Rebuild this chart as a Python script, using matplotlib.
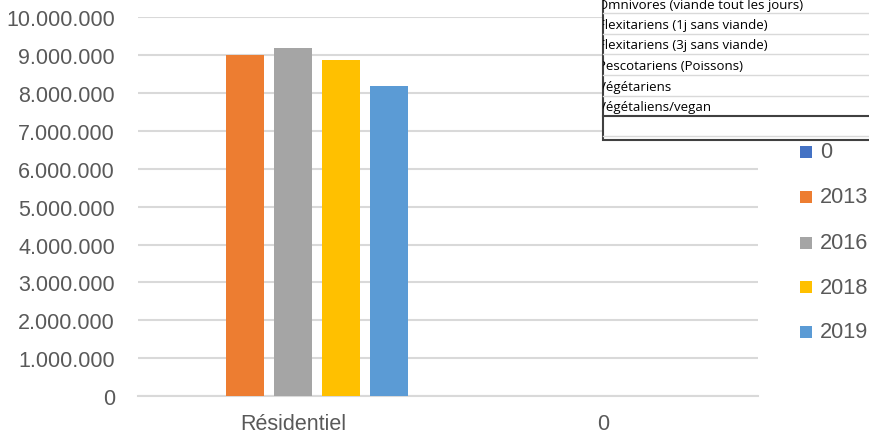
import matplotlib
matplotlib.use("Agg")
import matplotlib.pyplot as plt
from matplotlib.patches import Rectangle
from matplotlib.ticker import FuncFormatter, MultipleLocator
import numpy as np

categories = ["Résidentiel", "0"]
series_names = ["0", "2013", "2016", "2018", "2019"]
series_values = {
    "0":    [0, 0],
    "2013": [9000000, 0],
    "2016": [9180000, 0],
    "2018": [8870000, 0],
    "2019": [8190000, 0],
}
series_colors = ["#4472C4", "#ED7D31", "#A5A5A5", "#FFC000", "#5B9BD5"]
table_rows = [
    "Omnivores (viande tout les jours)",
    "Flexitariens (1j sans viande)",
    "Flexitariens (3j sans viande)",
    "Pescotariens (Poissons)",
    "Végétariens",
    "Végétaliens/vegan",
]

W, H = 870, 439
fig = plt.figure(figsize=(W / 100, H / 100), dpi=100)
FONT = "Liberation Sans"
TXT = "#595959"

def px_box(x0, y0, x1, y1):
    return [x0 / W, 1 - y1 / H, (x1 - x0) / W, (y1 - y0) / H]

ax = fig.add_axes(px_box(138, 18.3, 758, 397))
x = np.arange(len(categories))
step = 48 / 310
bw = 38 / 310
n = len(series_names)
for i, (name, col) in enumerate(zip(series_names, series_colors)):
    offs = (i - (n - 1) / 2) * step
    ax.bar(x + offs, series_values[name], width=bw, color=col, zorder=3)

ax.set_xlim(-0.5, len(categories) - 0.5)
ax.set_ylim(0, 10000000)
ax.yaxis.set_major_locator(MultipleLocator(1000000))
ax.yaxis.set_major_formatter(FuncFormatter(lambda v, p: f"{int(round(v)):,}".replace(",", ".")))
ax.grid(axis="y", color="#D9D9D9", linewidth=1.5, zorder=0)
for s in ["top", "right", "left"]:
    ax.spines[s].set_visible(False)
ax.spines["bottom"].set_color("#D9D9D9")
ax.spines["bottom"].set_linewidth(1.5)
ax.set_xticks(x)
ax.set_xticklabels(categories)
ax.tick_params(axis="both", length=0, labelsize=15.5, labelcolor=TXT)
ax.tick_params(axis="y", pad=16.5)
ax.tick_params(axis="x", pad=12)
for lab in ax.get_xticklabels() + ax.get_yticklabels():
    lab.set_fontfamily(FONT)

# Legend (manual)
leg_y = [153, 198, 244, 288, 333]
for name, col, yy in zip(series_names, series_colors, leg_y):
    fig.patches.append(Rectangle((800 / W, 1 - (yy + 6) / H), 12 / W, 12 / H,
                                 transform=fig.transFigure, facecolor=col, edgecolor="none"))
    fig.text(820 / W, 1 - yy / H, name, fontsize=15.7, color=TXT, family=FONT,
             va="center", ha="left")

# Overlaid table
tx0, ty1 = 603, 141
clip = Rectangle((tx0 / W, 1 - ty1 / H), (W + 20 - tx0) / W, (ty1 + 20) / H,
                 transform=fig.transFigure, facecolor="white", edgecolor="#404040",
                 linewidth=1.5, zorder=10)
fig.patches.append(clip)
row_y = [5, 26, 46, 67, 88, 108]
for t, yy in zip(table_rows, row_y):
    tt = fig.text(598 / W, 1 - yy / H, t, fontsize=9.5, color="black", family="Open Sans",
                  va="center", ha="left", zorder=12)
    tt.set_clip_path(clip)
for yy in [14, 35, 55, 76, 97, 137]:
    fig.add_artist(plt.Line2D([tx0 / W, 1], [1 - yy / H] * 2, transform=fig.transFigure,
                              color="#D9D9D9", linewidth=1, zorder=11))
fig.add_artist(plt.Line2D([tx0 / W, 1], [1 - 116.5 / H] * 2, transform=fig.transFigure,
                          color="#404040", linewidth=1.5, zorder=11))

fig.savefig("out.png", dpi=100)
